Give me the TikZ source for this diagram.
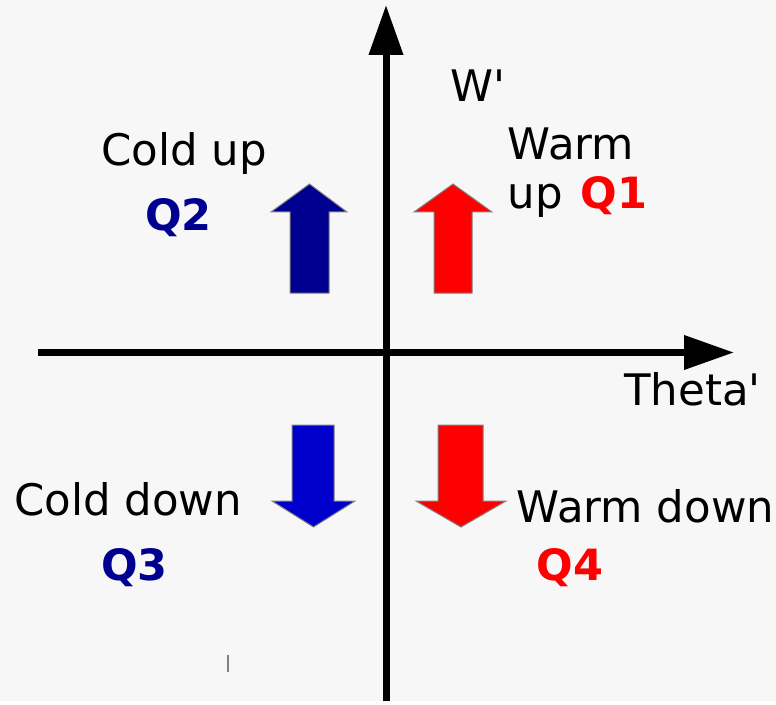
\documentclass[tikz,border=0pt]{standalone}
\usepackage{fontspec}
\newfontfamily\djv{DejaVu Sans}
\usetikzlibrary{arrows.meta}
\definecolor{bgray}{HTML}{F7F7F7}
\definecolor{qnavy}{RGB}{0,0,144}
\definecolor{qblue}{RGB}{0,0,204}
\definecolor{qred}{RGB}{255,0,0}

\begin{document}
\begin{tikzpicture}[x=0.75pt,y=-0.75pt,
    lab/.style={anchor=base west,inner sep=0pt,font=\djv\fontsize{32.6}{39}\selectfont},
    qlab/.style={lab,font=\djv\fontsize{32.3}{39}\selectfont\bfseries},
    blockarrow/.style={draw=gray,line width=0.75pt,line join=miter}]
  % canvas
  \fill[bgray] (0,0) rectangle (776,701);
  % axes
  \draw[line width=5.25pt,-{Triangle[length=37.5pt,width=24.75pt]}] (386,701) -- (386,5);
  \draw[line width=5.25pt,-{Triangle[length=37.5pt,width=24.75pt]}] (38,352.5) -- (734,352.5);
  \node[lab] (wlab) at (450,102) {W'};
  \node[lab] (thlab) at (624,405) {Theta'};
  % Q2: cold up
  \fill[qnavy,blockarrow] (309.5,184) -- (347,212) -- (329,212) -- (329,293)
        -- (290,293) -- (290,212) -- (271,212) -- cycle;
  \node[lab] (coldup) at (101,165.5) {Cold up};
  \node[qlab,text=qnavy] (q2) at (145,230.5) {Q2};
  % Q1: warm up
  \fill[qred,blockarrow] (453,184) -- (492,212) -- (472,212) -- (472,293)
        -- (434,293) -- (434,212) -- (414,212) -- cycle;
  \node[lab] (warm) at (507.5,159.5) {Warm};
  \node[lab] (up) at (507.5,208.5) {up};
  \node[qlab,text=qred] (q1) at (580.5,208.5) {Q1};
  % Q3: cold down
  \fill[qblue,blockarrow] (292,425) -- (334,425) -- (334,501) -- (355,501)
        -- (313.5,527) -- (272,501) -- (292,501) -- cycle;
  \node[lab] (colddown) at (14,515) {Cold down};
  \node[qlab,text=qnavy] (q3) at (101,580) {Q3};
  % Q4: warm down
  \fill[qred,blockarrow] (438,425) -- (483,425) -- (483,501) -- (506,501)
        -- (461,527) -- (416,501) -- (438,501) -- cycle;
  \node[lab] (warmdown) at (516.5,522) {Warm down};
  \node[qlab,text=qred] (q4) at (536.5,580) {Q4};
  % stray mark
  \draw[gray,line width=1.5pt] (227.5,655) -- (227.5,672);
\end{tikzpicture}
\end{document}
